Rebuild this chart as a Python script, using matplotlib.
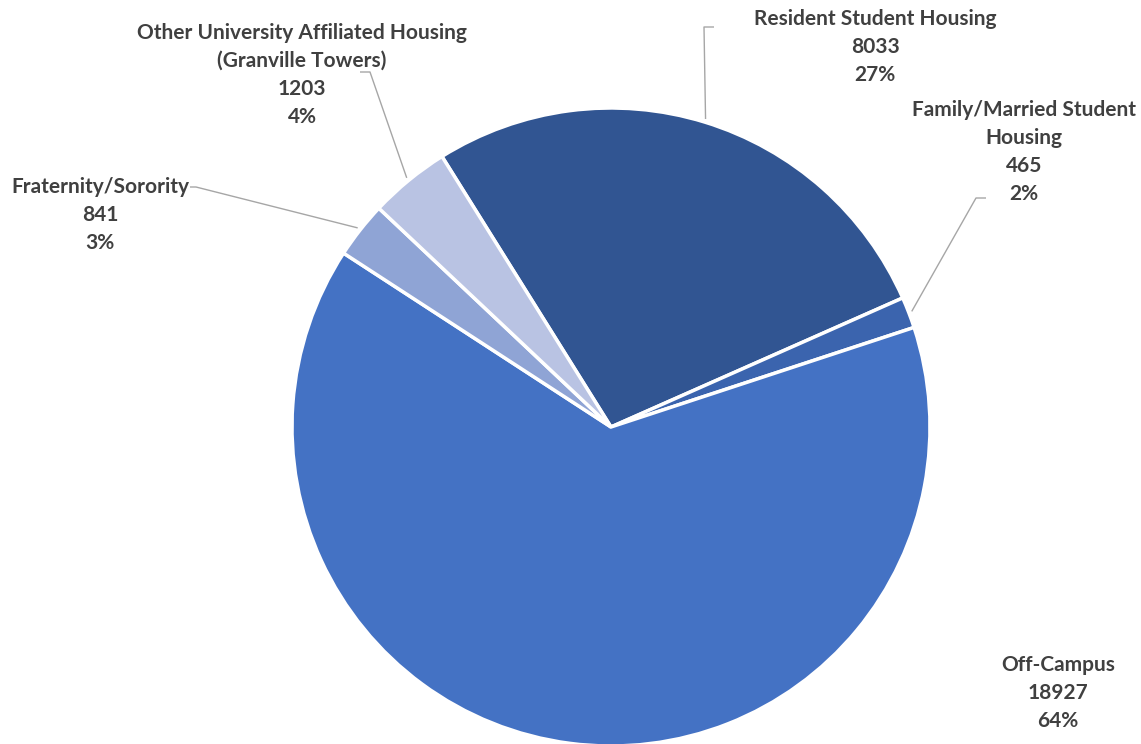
import numpy as np
import matplotlib
matplotlib.use("Agg")
import matplotlib.pyplot as plt

categories = ["Resident Student Housing", "Family/Married Student\nHousing", "Off-Campus",
              "Fraternity/Sorority", "Other University Affiliated Housing\n(Granville Towers)"]
values = [8033, 465, 18927, 841, 1203]
colors = ["#315592", "#3B64AE", "#4472C4", "#8FA4D5", "#B9C3E3"]

W, H = 1141, 744
fig = plt.figure(figsize=(W / 100, H / 100), dpi=100)
ax = fig.add_axes([0, 0, 1, 1])

cx, cy, R = 611, H - 427, 319
wedges, _ = ax.pie(values, colors=colors, startangle=122, counterclock=False,
                   center=(cx, cy), radius=R,
                   wedgeprops=dict(edgecolor="white", linewidth=2.5))
ax.set_xlim(0, W)
ax.set_ylim(0, H)
ax.set_aspect("equal")
ax.axis("off")

total = sum(values)
txtcol = "#404040"
font = dict(family=["Lato", "DejaVu Sans"], fontweight="bold", fontsize=15, color=txtcol)

# label centre (x, y of first line centre in px) and leader elbows (px)
label_pos = [(875, 17), (1024, 108), (1058, 663), (100, 185), (302, 31)]
leaders = [
    [(704, 27), (714, 27)],
    [(976, 198), (986, 198)],
    None,
    [(196, 187), (190, 187)],
    [(370, 72), (360, 72)],
]
lead_r = [1.01, 1.01, None, 1.01, 1.01]

for i, (w, cat, v) in enumerate(zip(wedges, categories, values)):
    pct = round(100 * v / total)
    s = f"{cat}\n{v}\n{pct}%"
    lx, ly = label_pos[i]
    ax.text(lx, H - ly + 8, s, ha="center", va="top", linespacing=1.5, **font)
    if leaders[i] is not None:
        ang = np.deg2rad((w.theta1 + w.theta2) / 2)
        sx = cx + R * lead_r[i] * np.cos(ang)
        sy = cy + R * lead_r[i] * np.sin(ang)
        pts = [(sx, sy)] + [(px, H - py) for px, py in leaders[i]]
        xs, ys = zip(*pts)
        ax.plot(xs, ys, color="#A6A6A6", linewidth=1.0, solid_capstyle="butt")

fig.savefig("out.png", dpi=100, facecolor="white")
